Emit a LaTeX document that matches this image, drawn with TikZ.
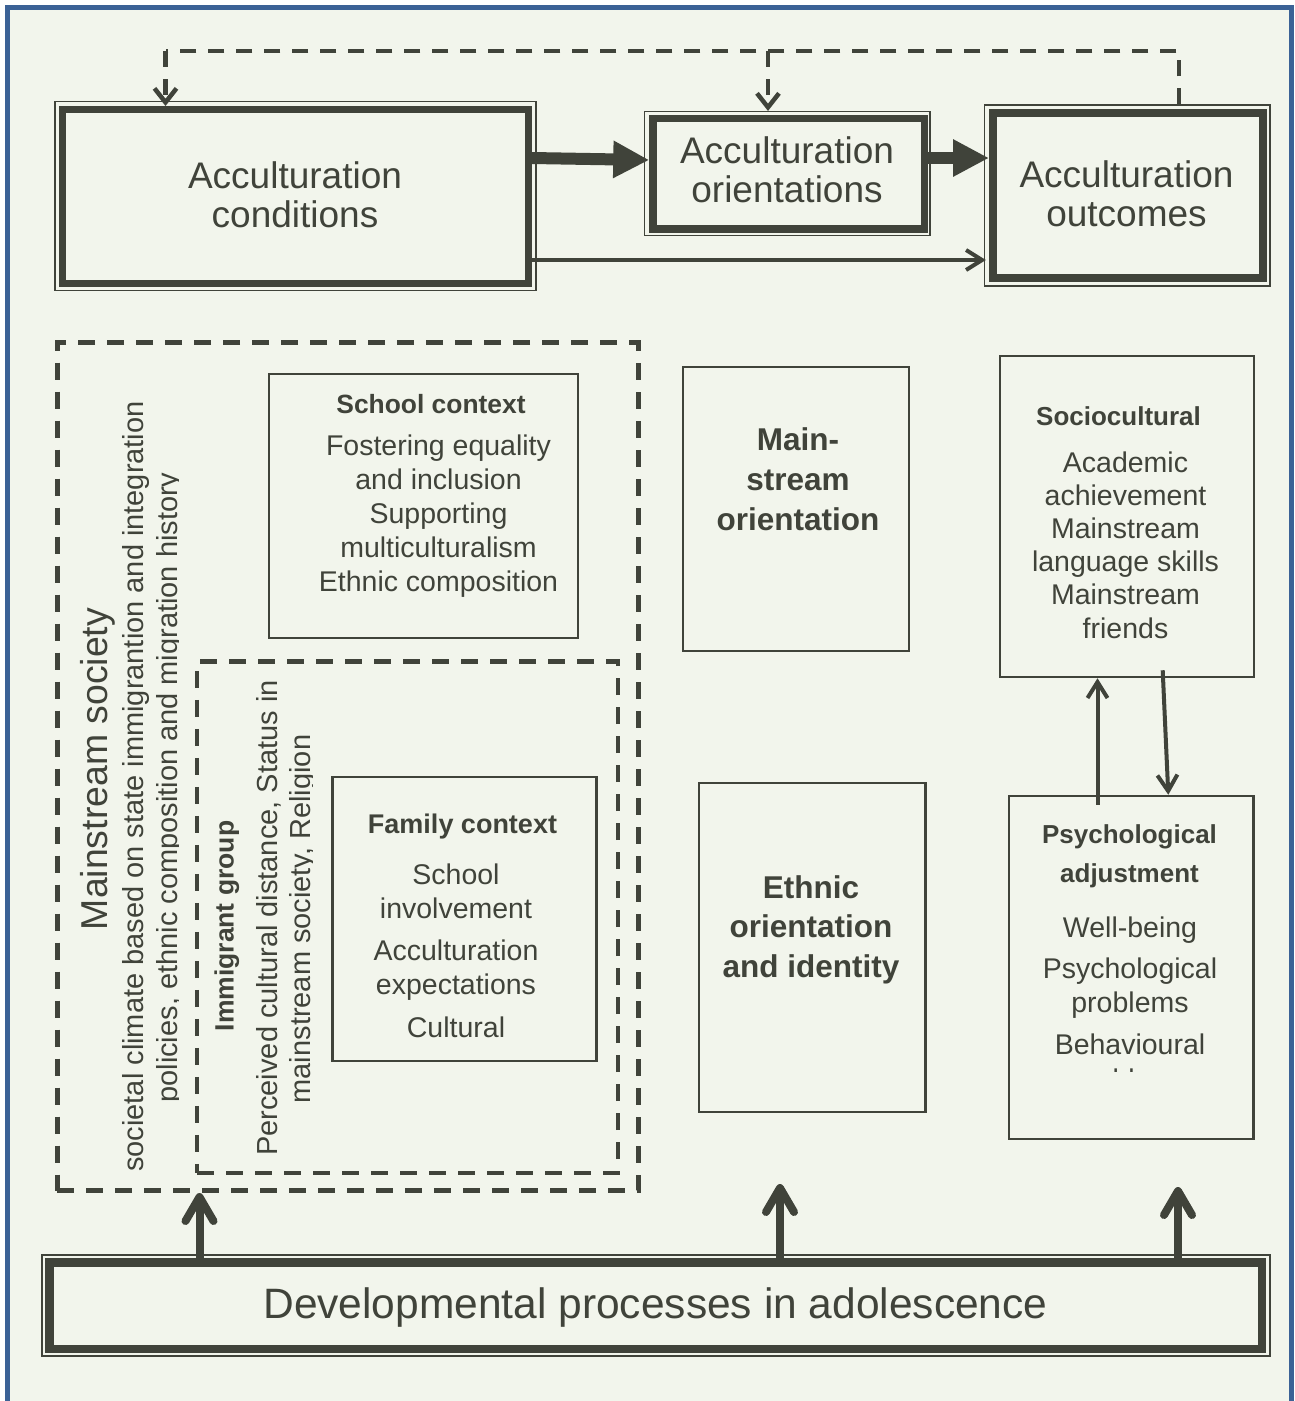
\documentclass[tikz,border=0pt]{standalone}
\usepackage{fontspec}
\setmainfont{Liberation Sans}
\usetikzlibrary{arrows.meta}
\definecolor{lc}{HTML}{40433A}
\definecolor{bgc}{HTML}{F2F5EC}
\definecolor{frc}{HTML}{3B6296}
\newcommand\tb[1]{\begin{tabular}[t]{@{}c@{}}#1\end{tabular}}
\newcommand\fs[2]{\fontsize{#1}{#2}\selectfont}
\begin{document}
\begin{tikzpicture}[x=1pt,y=-1pt,
  every node/.style={inner sep=0pt,text=lc},
  thickbox/.style={draw=lc,line width=#1},
  thinframe/.style={draw=lc,line width=1.5pt},
  plainbox/.style={draw=lc,line width=2.5pt},
  dbox/.style={draw=lc,line width=#1,dash pattern=on 17pt off 12pt},
  dline/.style={draw=lc,line width=4.5pt,dash pattern=on 16pt off 12pt},
  bigarrow/.style={draw=lc,line width=12pt,-{Triangle[length=36pt,width=35pt]}},
  thinarrow/.style={draw=lc,line width=4pt,-{Straight Barb[length=16pt,width=20pt]}},
  uparrow/.style={draw=lc,line width=8pt,-{Straight Barb[round,length=24pt,width=28pt]}},
  dtip/.style={-{Straight Barb[length=14pt,width=22pt]}}
]
\useasboundingbox (0,0) rectangle (1294,1401);
\fill[white] (0,0) rectangle (1294,1401);
\fill[bgc] (7.5,7.5) rectangle (1291,1410);
\draw[frc,line width=5pt] (1291,1410) -- (1291,7.5) -- (7.5,7.5) -- (7.5,1410);

% top boxes
\node[thinframe,minimum width=481pt,minimum height=189pt] (condO) at (295.5,196) {};
\node[thickbox=7pt,minimum width=466pt,minimum height=173.5pt] (cond) at (295.5,196.25) {};
\node[thinframe,minimum width=285.5pt,minimum height=124pt] (orientO) at (787.25,173.7) {};
\node[thickbox=7.5pt,minimum width=271.5pt,minimum height=110.5pt] (orient) at (788.75,173.75) {};
\node[thinframe,minimum width=285.4pt,minimum height=181pt] (outcO) at (1127.3,195.5) {};
\node[thickbox=8pt,minimum width=269.5pt,minimum height=165pt] (outc) at (1127.75,195.5) {};

\node[font=\fs{37}{39.5},anchor=base] (condT) at (295,188) {\tb{Acculturation\\conditions}};
\node[font=\fs{37}{39.5},anchor=base] (orientT) at (787,163) {\tb{Acculturation\\orientations}};
\node[font=\fs{37}{39.5},anchor=base] (outcT) at (1126.5,187) {\tb{Acculturation\\outcomes}};

\draw[bigarrow] ([yshift=38.25pt]cond.east) -- ([yshift=13.75pt]orient.west);
\draw[bigarrow] ([yshift=15.75pt]orient.east) -- ([yshift=37.5pt]outc.west);
\draw[thinarrow] ([yshift=-63.75pt]cond.east) -- ([xshift=2pt,yshift=-64.5pt]outcO.west);

\coordinate (dl) at (165.5,51);
\coordinate (dm) at (768,51);
\draw[dline] ([xshift=51.7pt]outcO.north) |- (dl);
\draw[dline,dtip] (dl) -- ([xshift=-130pt]cond.north);
\draw[dline,dtip] (dm) -- ([xshift=-19.25pt]orientO.north);

% left dashed groups
\node[dbox=5pt,minimum width=581pt,minimum height=848pt] (mainstream) at (347.5,766.5) {};
\node[dbox=4.5pt,minimum width=421pt,minimum height=511.6pt] (immig) at (407.5,917.2) {};

\node[font=\fs{37.4}{40},rotate=90,anchor=base] (msT) at (107,769) {Mainstream society};
\node[font=\fs{29}{34},rotate=90,anchor=base] (msL1) at (143.5,786.5) {societal climate based on state immigrantion and integration};
\begin{scope}
\clip (0,300) rectangle (178.5,1250);
\node[font=\fs{29}{34},rotate=90,anchor=base] (msL2) at (177,787.5) {policies, ethnic composition and migration history};
\end{scope}
\node[font=\fs{26.5}{30}\bfseries,rotate=90,anchor=base] (igT) at (233.7,926) {Immigrant group};
\node[font=\fs{29}{34},rotate=90,anchor=base] (igL1) at (277,918) {Perceived cultural distance, Status in};
\begin{scope}
\clip (0,600) rectangle (312.2,1250);
\node[font=\fs{29}{34},rotate=90,anchor=base] (igL2) at (310.7,919) {mainstream society, Religion};
\end{scope}

% school and family
\node[plainbox,minimum width=309pt,minimum height=264pt] (school) at (423.5,506) {};
\node[font=\fs{26.4}{30}\bfseries,anchor=base] (schoolH) at (431,413) {School context};
\node[font=\fs{28.5}{34},anchor=base] (schoolT) at (438.5,455) {\tb{Fostering equality\\and inclusion\\Supporting\\multiculturalism\\Ethnic composition}};

\node[plainbox,minimum width=264pt,minimum height=284pt] (family) at (464.5,919) {};
\node[font=\fs{27}{30}\bfseries,anchor=base] (familyH) at (462.5,833) {Family context};
\node[font=\fs{28.5}{34.3},anchor=base] (familyT) at (456,884) {\tb{School\\involvement\\[8pt]Acculturation\\expectations\\[8pt]Cultural}};

% middle column
\node[plainbox,minimum width=226pt,minimum height=284pt] (mainor) at (796,509) {};
\node[font=\fs{31.5}{40}\bfseries,anchor=base] (mainorT) at (798,450) {\tb{Main-\\stream\\orientation}};
\node[plainbox,minimum width=226.5pt,minimum height=329pt] (ethnic) at (812.25,947.5) {};
\node[font=\fs{31.5}{39.5}\bfseries,anchor=base] (ethnicT) at (811,898) {\tb{Ethnic\\orientation\\and identity}};

% right column
\node[plainbox,minimum width=254pt,minimum height=321pt] (socio) at (1127,516.5) {};
\node[font=\fs{26}{30}\bfseries,anchor=base] (socioH) at (1118.5,425) {Sociocultural};
\node[font=\fs{28.5}{33.2},anchor=base] (socioT) at (1125.5,472) {\tb{Academic\\achievement\\Mainstream\\language skills\\Mainstream\\friends}};

\node[plainbox,minimum width=244.5pt,minimum height=343pt] (psych) at (1131.25,967.5) {};
\node[font=\fs{26}{39}\bfseries,anchor=base] (psychH) at (1129.5,843) {\tb{Psychological\\adjustment}};
\node[font=\fs{28.5}{34},anchor=base] (psychT) at (1130,937) {\tb{Well-being\\[7pt]Psychological\\problems\\[8pt]Behavioural}};
\begin{scope}
\clip (1012,1060) rectangle (1250,1071);
\node[font=\fs{28.5}{34},anchor=base] (psychT2) at (1130,1089) {problems};
\end{scope}

\draw[thinarrow] ([xshift=-33.75pt,yshift=-10pt]psych.north) -- ([xshift=-29.5pt]socio.south);
\draw[thinarrow] ([xshift=35.7pt,yshift=8pt]socio.south) -- ([xshift=37.05pt]psych.north);

% bottom box
\node[thinframe,minimum width=1228pt,minimum height=101pt] (devO) at (656,1305.5) {};
\node[thickbox=8.5pt,minimum width=1212.5pt,minimum height=86.5pt] (dev) at (655.75,1305.75) {};
\node[font=\fs{42.5}{50},anchor=base] (devT) at (655.5,1318) {Developmental processes in adolescence};

\coordinate (mt) at (780,1184);
\coordinate (rt) at (1178,1187);
\draw[uparrow] ([xshift=-456.25pt]dev.north) -- ([xshift=-148pt]mainstream.south);
\draw[uparrow] ([xshift=124.25pt]dev.north) -- (mt);
\draw[uparrow] ([xshift=522.25pt]dev.north) -- (rt);
\end{tikzpicture}
\end{document}
